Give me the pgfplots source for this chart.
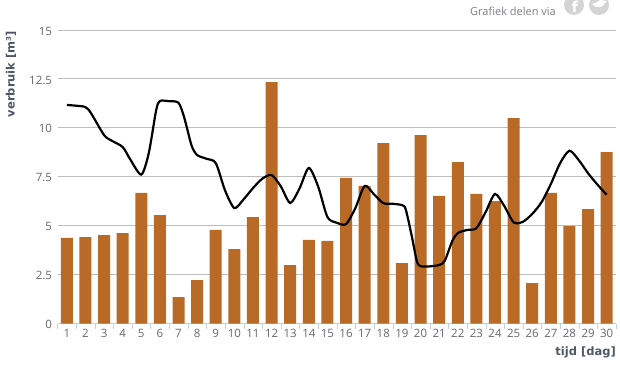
\documentclass[border=0pt]{standalone}
\usepackage{pgfplots}
\usepackage{fontspec}
\setmainfont{Open Sans}
\newfontfamily\titlefont{DejaVu Sans}
\pgfplotsset{compat=1.18}
\definecolor{barc}{HTML}{B96A27}
\definecolor{gridc}{HTML}{BEBEBE}
\definecolor{tickc}{HTML}{C0D0E0}
\definecolor{labc}{HTML}{666672}
\definecolor{titc}{HTML}{4D5766}
\definecolor{iconc}{HTML}{D4D4D4}
\begin{document}
\begin{tikzpicture}[x=1pt,y=1pt]
\useasboundingbox (0,0) rectangle (620,368);
\begin{axis}[
  at={(57.5pt,44.5pt)}, anchor=south west,
  scale only axis, width=558.5pt, height=293.5pt,
  xmin=0.5, xmax=30.5, ymin=0, ymax=15,
  ytick={0,2.5,5,7.5,10,12.5,15},
  yticklabels={0,2.5,5,7.5,10,12.5,15},
  xtick={1,...,30},
  minor xtick={0.5,1.5,...,30.5},
  axis y line*=left,
  axis x line*=bottom,
  y axis line style={draw=none},
  x axis line style={draw=tickc,-},
  tick align=outside,
  major tick length=0pt,
  minor tick length=5pt,
  every minor tick/.style={draw=tickc},
  ymajorgrids,
  grid style={gridc,line width=0.9pt},
  ticklabel style={font=\fontsize{11.5}{13}\selectfont,text=labc},
  xticklabel style={yshift=-2.5pt},
  yticklabel style={xshift=-2pt,yshift=-1pt},
  /pgf/number format/assume math mode=true,
  clip=false,
]
\addplot[ybar,bar width=12pt,bar shift=0pt,fill=barc,draw=none] coordinates {
(1,4.37)(2,4.42)(3,4.52)(4,4.62)(5,6.67)(6,5.54)(7,1.35)(8,2.22)(9,4.78)(10,3.80)
(11,5.44)(12,12.34)(13,2.99)(14,4.27)(15,4.22)(16,7.44)(17,7.03)(18,9.22)(19,3.09)(20,9.63)
(21,6.52)(22,8.25)(23,6.62)(24,6.26)(25,10.50)(26,2.07)(27,6.67)(28,4.98)(29,5.85)(30,8.76)};
\addplot[black,line width=2.2pt,smooth,tension=0.45,no markers] coordinates {
(1,11.17)(1.5,11.13)(2,11.06)(2.3,10.75)(3,9.63)(3.4,9.35)(4,9.02)(4.4,8.4)(5,7.61)(5.4,8.7)(5.8,10.9)(6,11.37)(6.5,11.36)(7,11.28)(7.3,10.55)(7.7,9.1)(8,8.61)(8.5,8.42)(9,8.20)(9.5,6.8)(10,5.90)
(10.5,6.35)(11,6.92)(11.5,7.4)(12,7.59)(12.5,7.0)(13,6.16)(13.5,6.9)(14,7.95)(14.5,7.0)(15,5.44)(15.5,5.15)(16,5.08)(16.5,5.9)(17,7.03)(17.5,6.6)(18,6.15)(18.5,6.12)(19,6.05)(19.2,5.85)(19.5,4.6)(19.8,3.2)(20,2.93)(20.5,2.92)(21,2.99)(21.3,3.2)(21.7,4.2)
(22,4.62)(22.5,4.78)(23,4.87)(23.5,5.7)(24,6.62)(24.5,6.0)(25,5.17)(25.5,5.2)(26,5.60)(26.5,6.2)(27,7.13)(27.5,8.2)(28,8.83)(28.5,8.35)(29,7.68)(29.5,7.1)(30,6.58)};
\end{axis}
\node[rotate=90,font=\titlefont\bfseries\fontsize{11.5}{13}\selectfont,text=titc,inner sep=0pt] at (11,294) {verbruik [m³]};
\node[anchor=east,font=\titlefont\bfseries\fontsize{11.5}{13}\selectfont,text=titc,inner sep=0pt] at (616,16) {tijd [dag]};
\node[anchor=east,font=\fontsize{11}{13}\selectfont,text=labc!85,inner sep=0pt] at (556,357) {Grafiek delen via};
\fill[iconc] (574,363) circle (10);
\fill[iconc] (599,363) circle (10);
\node[text=white,font=\titlefont\bfseries\fontsize{15}{15}\selectfont,inner sep=0pt] at (575,361) {f};
\fill[white] (592,364) .. controls (596,359) and (603,360) .. (605,365) -- (607,367) -- (600,368) .. controls (598,365) and (595,366) .. cycle;
\end{tikzpicture}
\end{document}
